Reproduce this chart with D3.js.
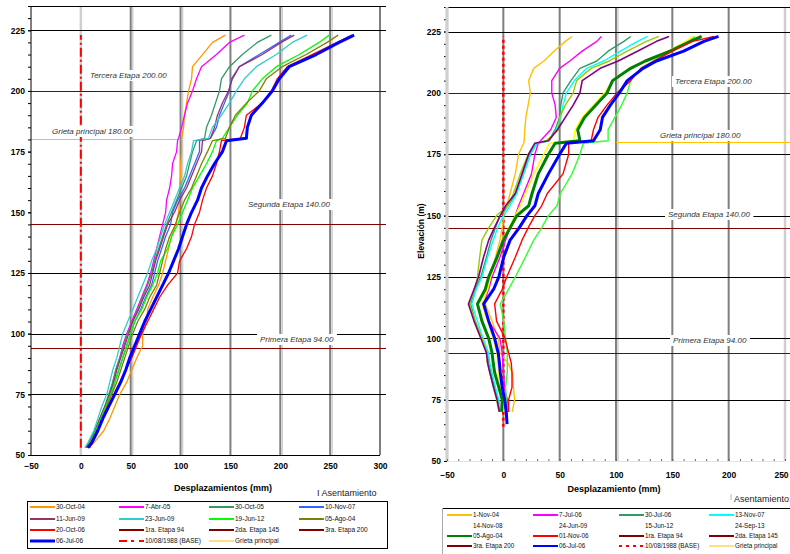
<!DOCTYPE html>
<html><head><meta charset="utf-8">
<script src="https://cdn.jsdelivr.net/npm/d3@7"></script>
<style>body{margin:0;background:#fff}svg text{font-family:"Liberation Sans",Arial,sans-serif}</style>
</head><body><svg id="c" width="790" height="554"></svg>
<script>
// ---------------- DATA (left panel) ----------------
const elevL = [53,55,60,65,70,75,80,85,90,95,100,105,110,115,120,125,130,135,140,145,150,155,160,165,170,175,179.5,180.5,185,190,195,200,205,210,215,220,223];
const L_30Oct04 = [8,13,23,29,34,39,46,51,56,62,62,66,67,72,78,82,85,88,91,95,98,99,99,100,100,101,101,101,103,104,106,108,111,112,122,132,145];
const L_7Abr05  = [5,8,15,20,25,29,32,35,39,42,46,51,56,61,66,70,73,76,79,82,85,86,89,91,92,96,97,98,101,104,107,112,116,121,136,149,164];
const L_30Oct05 = [5,8,14,19,24,28,32,35,39,43,47,52,57,62,67,71,74,78,82,86,91,96,101,106,109,112,116,124,126,131,135,139,141,149,162,177,191];
const L_10Nov07 = [6,9,15,20,25,30,34,38,42,46,50,54,60,65,71,74,77,81,85,90,92,97,104,109,114,119,119,130,136,139,144,149,151,159,179,199,211];
const L_11Jun09 = [5,8,14,19,24,29,33,36,40,44,48,52,58,63,69,72,75,79,83,87,94,99,106,111,116,121,122,130,134,137,142,148,152,159,182,201,214];
const L_23Jun09 = [4,7,13,17,21,26,29,32,36,39,42,47,52,57,62,67,71,76,80,84,89,94,99,104,107,111,113,128,132,141,149,156,164,176,196,212,227];
const L_19Jun12 = [6,9,15,20,25,30,34,38,42,46,50,54,61,66,72,77,80,87,91,97,102,107,112,119,126,132,136,142,149,157,167,172,182,196,219,239,249];
const L_05Ago04 = [6,9,16,21,26,31,36,40,44,48,52,57,64,69,76,79,82,85,89,95,99,104,111,116,121,127,132,145,149,155,166,179,186,202,226,247,258];
const L_20Oct06 = [9,11,17,22,27,33,39,45,51,56,61,67,73,79,87,97,99,106,111,114,119,122,126,132,136,139,141,160,164,166,182,191,197,207,232,257,272];
const L_06Jul06 = [7,11,17,22,28,34,40,45,49,54,59,64,70,76,82,88,93,98,102,106,111,117,121,127,134,142,146,166,167,171,182,192,199,209,236,259,274];
const baseElevL = [53,223];
const grietaL = [-50,100];

// ---------------- DATA (right panel) ----------------
const elevR = [65,70,75,80,86,90,94,100,107,114,120,125,133,140,145,150,154,159,167,175,179.5,180.5,185,190,195,200,205,210,213,217,221,223];
const R_1Nov04   = [null,8,10,9,8,4,-3,-4.5,-10,-16,-14,-11.5,-7,-3,-1,0.3,3,6,10.6,13.6,18,18.5,19,20,22,24,22.5,27,36,45,55,61];
const R_7Jul06   = [null,3,3.5,1,0.3,-0.5,-1,-3,-13,-17.6,-13,-10,-3,2,6,10.6,13.6,18,25,28,31,33,42,47,46,43,43,50,59,70,83,87];
const R_30Jul06  = [null,-3,-4.5,-7.5,-11,-13,-14,-19,-25,-29,-25,-20,-15,-11,-7,-3,4,11,18,24,30,40,46,50,51,53,60,68,83,93,107,113];
const R_13Nov07  = [null,-2.7,-4,-7,-10,-12,-13,-18,-23,-28,-24,-19,-14,-9,-5,0,6,12,18,24,30,41,47,51,53,56,63,74,89,104,119,128];
const R_14Nov08  = [null,-4,-6,-9,-12,-14,-14.5,-19,-25,-30,-25.5,-23,-21,-19,-13,-6,4,9,15,22,28,38,49,50,55,62,65,78,94,110,127,138];
const R_24Jun09  = [null,-3.5,-5.6,-8.6,-12,-14,-15,-20,-26,-31,-26,-22,-17.6,-13,-8,-2.7,2,10.6,16.6,22.5,28,40,48,55,62,68,70,86,102,119,136,147];
const R_15Jun12  = [null,0,0.3,-2.7,-4,-5,-5.6,-9,-14,-19,-14,-11.5,-5.6,-1,5,10.6,15,19.5,27,36,41,62,64,70,80,90,97,112,125,146,162,168];
const R_24Sep13  = [null,2,2.6,2,3.5,3.5,3.5,2,0.3,-2.7,4.7,10.6,19.5,27,34,40,47.6,50.6,61,68,71,93,93,99,105,110,113,122,133,150,165,170];
const R_05Ago04  = [null,-1.5,-1,-4,-7.7,-9,-10,-13,-19,-23,-16,-13,-5.6,0,6,12,22.5,25.5,31,40,46,68,66,72,82,92,97,113,126,148,166,176];
const R_01Nov06  = [null,4.7,4.7,7.7,7.7,7,4.7,1.5,-6,-7.7,-1,3,10.6,16.6,22,28,34,39,53,58,58,78,80,84,92,101,113,122,134,150,168,187];
const R_06Jul06  = [3.3,2.6,1.2,-1,-2.7,-3.5,-4.5,-7.7,-13,-17.5,-8.6,-4,0.3,6,14,21,28,31,40,50,56,80,86,88,95,103,110,124,136,160,178,191];
const baseElevR = [64,223];
const grietaR = [100,250];

// stage levels and grid lines
const etapas = [94,145,200];
const grieta = 180;
const hLinesL = [225,125,100,75];
const hLinesR = [225,175,150,125,100,75];
const yTicks = [50,75,100,125,150,175,200,225];
const xTicksL = [-50,0,50,100,150,200,250,300];
const xTicksR = [-50,0,50,100,150,200,250];

const legendL = ["30-Oct-04","7-Abr-05","30-Oct-05","10-Nov-07","11-Jun-09","23-Jun-09","19-Jun-12","05-Ago-04","20-Oct-06","1ra. Etapa 94","2da. Etapa 145","3ra. Etapa 200","06-Jul-06","10/08/1988 (BASE)","Grieta principal"];
const legendR = ["1-Nov-04","7-Jul-06","30-Jul-06","13-Nov-07","14-Nov-08","24-Jun-09","15-Jun-12","24-Sep-13","05-Ago-04","01-Nov-06","1ra. Etapa 94","2da. Etapa 145","3ra. Etapa 200","06-Jul-06","10/08/1988 (BASE)","Grieta principal"];

// ---------------- STYLE ----------------
const seriesL = [
  {v:L_30Oct04,c:"#FF9900",w:1.3},{v:L_7Abr05,c:"#FF00FF",w:1.3},{v:L_30Oct05,c:"#339966",w:1.3},
  {v:L_10Nov07,c:"#3366FF",w:1.3},{v:L_11Jun09,c:"#993366",w:1.3},{v:L_23Jun09,c:"#33CCCC",w:1.3},
  {v:L_19Jun12,c:"#00FF00",w:1.3},{v:L_05Ago04,c:"#808000",w:1.3},{v:L_20Oct06,c:"#FF0000",w:1.3},
  {v:L_06Jul06,c:"#0000FF",w:3}
];
const seriesR = [
  {v:R_1Nov04,c:"#FFC000",w:1.4},{v:R_7Jul06,c:"#FF00FF",w:1.4},{v:R_30Jul06,c:"#339966",w:1.4},
  {v:R_13Nov07,c:"#00FFFF",w:1.4},{v:R_14Nov08,c:"#99CC00",w:1.4},{v:R_24Jun09,c:"#800080",w:1.6},
  {v:R_15Jun12,c:"#FFFF00",w:1.6},{v:R_24Sep13,c:"#33FF33",w:1.4},{v:R_05Ago04,c:"#008000",w:3},
  {v:R_01Nov06,c:"#FF0000",w:1.4},{v:R_06Jul06,c:"#0000FF",w:3}
];
const DR = "#800000";

const svg = d3.select("#c");

function panel(cfg){
  const g = svg.append("g");
  const x = cfg.x, y = cfg.y;
  const [x0,x1] = x.range(); const [yb,yt] = y.range();
  cfg.grid.forEach(gd=>{
    if(gd.dark) g.append("line").attr("x1",x(gd.v)).attr("x2",x(gd.v)).attr("y1",yt).attr("y2",yb).attr("stroke","#7f7f7f").attr("stroke-width",2);
    if(gd.light) g.append("line").attr("x1",x(gd.v)+(gd.dark?2:0)).attr("x2",x(gd.v)+(gd.dark?2:0)).attr("y1",yt).attr("y2",yb).attr("stroke","#cfcfcf").attr("stroke-width",gd.dark?1.5:2.5);
  });
  cfg.hLines.forEach(v=>g.append("line").attr("x1",x0).attr("x2",cfg.hEnd).attr("y1",Math.round(y(v))+0.5).attr("y2",Math.round(y(v))+0.5).attr("stroke","#000").attr("stroke-width",1));
  etapas.forEach(v=>g.append("line").attr("x1",x0).attr("x2",cfg.hEnd).attr("y1",Math.round(y(v))+0.5).attr("y2",Math.round(y(v))+0.5).attr("stroke",DR).attr("stroke-width",1.2));
  g.append("line").attr("x1",x(cfg.grieta[0])).attr("x2",cfg.grietaEnd!==undefined?cfg.grietaEnd:x(cfg.grieta[1])).attr("y1",Math.round(y(grieta))+0.5).attr("y2",Math.round(y(grieta))+0.5).attr("stroke","#FFC000").attr("stroke-width",1);
  g.append("line").attr("x1",x0).attr("x2",cfg.hEnd).attr("y1",yt+0.5).attr("y2",yt+0.5).attr("stroke","#000");
  const ya = g.append("g").attr("transform",`translate(${x0},0)`).call(d3.axisLeft(y).tickValues(yTicks).tickSize(3).tickPadding(3).tickFormat(d3.format("d")));
  ya.select(".domain").remove();
  ya.selectAll("text").attr("font-size",8.5).attr("font-weight","bold").attr("fill","#000").attr("font-family","Liberation Sans, Arial");
  const ym = g.append("g").attr("transform",`translate(${x0},0)`).call(d3.axisLeft(y).tickValues(d3.range(50,236,5)).tickSize(3).tickFormat(""));
  ym.select(".domain").remove();
  g.append("line").attr("x1",x0).attr("x2",x0).attr("y1",yt).attr("y2",yb).attr("stroke",cfg.axisColor).attr("stroke-width",cfg.axisW);
  g.append("line").attr("x1",x0).attr("x2",x1).attr("y1",yb+0.5).attr("y2",yb+0.5).attr("stroke",cfg.bottomColor);
  const xa = g.append("g").attr("transform",`translate(0,${yb})`).call(d3.axisBottom(x).tickValues(cfg.xTicks).tickSize(0).tickPadding(cfg.xPad).tickFormat(d3.format("d")));
  xa.select(".domain").remove();
  xa.selectAll("text").attr("font-size",8.5).attr("font-weight","bold").attr("fill","#000").attr("font-family","Liberation Sans, Arial");
  if(cfg.lastShift) xa.selectAll(".tick:last-of-type text").attr("dx",cfg.lastShift);
  if(cfg.xMinor){
    const xm = g.append("g").attr("transform",`translate(0,${yb})`).call(d3.axisTop(x).tickValues(d3.range(-50,251,10)).tickSize(2).tickFormat(""));
    xm.select(".domain").remove(); xm.selectAll("line").attr("stroke","#666");
  }
  g.append("line").attr("x1",x(0)).attr("x2",x(0)).attr("y1",y(cfg.base[0])).attr("y2",y(cfg.base[1])).attr("stroke","#FF0000").attr("stroke-width",cfg.baseW).attr("stroke-dasharray",cfg.baseDash);
  const line = d3.line().defined(d=>d.d!==null).x(d=>x(d.d)).y(d=>y(d.e)).curve(d3.curveLinear);
  cfg.series.forEach(s=>{
    const pts = cfg.elev.map((e,i)=>({e:e,d:s.v[i]}));
    g.append("path").datum(pts).attr("d",line).attr("fill","none").attr("stroke",s.c).attr("stroke-width",s.w).attr("stroke-linejoin","round");
  });
  cfg.notes.forEach(n=>{
    const t = g.append("text").attr("x",n.x).attr("y",n.y).attr("font-size",8).attr("font-style","italic").attr("fill","#333").text(n.t);
    const bb = t.node().getBBox();
    g.insert("rect",()=>t.node()).attr("x",bb.x-3).attr("y",bb.y-1).attr("width",bb.width+6).attr("height",bb.height+2).attr("fill","#fff");
  });
  return g;
}

const xL = d3.scaleLinear().domain([-50,300]).range([31,380]);
const yL = d3.scaleLinear().domain([50,235]).range([455,6]);
const xR = d3.scaleLinear().domain([-50,250]).range([447,785]);
const yR = d3.scaleLinear().domain([50,235]).range([461,7]);

panel({x:xL,y:yL,elev:elevL,series:seriesL,hLines:hLinesL,hEnd:386,grieta:grietaL,
  grid:[{v:0,light:true},{v:50,dark:true,light:true},{v:100,dark:true,light:true},{v:150,dark:true},{v:200,dark:true,light:true},{v:250,dark:true,light:true},{v:300,dark:true}],
  axisColor:"#000",axisW:1,bottomColor:"#000",xTicks:xTicksL,xPad:8,xMinor:false,
  base:baseElevL,baseW:2,baseDash:"9,3,2,3",
  notes:[{x:90,y:78,t:"Tercera Etapa 200.00"},{x:52,y:134,t:"Grieta principal 180.00"},{x:248,y:207,t:"Segunda Etapa 140.00"},{x:260,y:342,t:"Primera Etapa 94.00"}]});

panel({x:xR,y:yR,elev:elevR,series:seriesR,hLines:hLinesR,hEnd:790,grieta:grietaR,grietaEnd:790,
  grid:[{v:-50,light:true},{v:0,dark:true},{v:50,dark:true},{v:100,dark:true,light:true},{v:150,dark:true},{v:200,dark:true},{v:250,light:true}],
  axisColor:"#d0d0d0",axisW:3,bottomColor:"#e4e4e4",xTicks:xTicksR,xPad:11,xMinor:true,lastShift:-4,
  base:baseElevR,baseW:2.5,baseDash:"3,3",
  notes:[{x:675,y:84,t:"Tercera Etapa 200.00"},{x:660,y:138,t:"Grieta principal 180.00"},{x:668,y:217,t:"Segunda Etapa 140.00"},{x:673,y:343,t:"Primera Etapa 94.00"}]});

svg.append("text").attr("x",223).attr("y",491).attr("text-anchor","middle").attr("font-size",9).attr("font-weight","bold").text("Desplazamientos (mm)");
svg.append("text").attr("x",614).attr("y",492).attr("text-anchor","middle").attr("font-size",9).attr("font-weight","bold").text("Desplazamiento (mm)");
svg.append("text").attr("transform","translate(424,231) rotate(-90)").attr("text-anchor","middle").attr("font-size",8.5).attr("font-weight","bold").text("Elevación (m)");
svg.append("text").attr("x",317).attr("y",496).attr("font-size",9).attr("fill","#222").text("I Asentamiento");
svg.append("line").attr("x1",731).attr("x2",731).attr("y1",494).attr("y2",500).attr("stroke","#bbb");
svg.append("text").attr("x",734).attr("y",502).attr("font-size",9).attr("fill","#222").text("Asentamiento");

function legend(items, styles, box, colX, rowY, swLen, fs){
  const g = svg.append("g");
  g.append("rect").attr("x",box[0]+0.5).attr("y",box[1]+0.5).attr("width",box[2]).attr("height",box[3]).attr("fill","#fff").attr("stroke",box[4]).attr("stroke-width",1);
  items.forEach((t,i)=>{
    const cx = colX[i%4], cy = rowY[Math.floor(i/4)];
    const s = styles[i];
    if(s.c) g.append("line").attr("x1",cx).attr("x2",cx+swLen).attr("y1",cy).attr("y2",cy).attr("stroke",s.c).attr("stroke-width",s.w).attr("stroke-dasharray",s.dash||null);
    g.append("text").attr("x",cx+swLen+1).attr("y",cy+2.3).attr("font-size",fs).attr("fill","#111").text(t);
  });
}
const stL = [{c:"#FF9900",w:2},{c:"#FF00FF",w:2},{c:"#339966",w:2},{c:"#3366FF",w:2},
  {c:"#993366",w:2},{c:"#33CCCC",w:2},{c:"#00FF00",w:2},{c:"#808000",w:2},
  {c:"#FF0000",w:2},{c:DR,w:2},{c:DR,w:2},{c:DR,w:2},
  {c:"#0000FF",w:3},{c:"#FF0000",w:2,dash:"8,4,3,5"},{c:"#FFC000",w:1}];
legend(legendL, stL, [27,501,360,47,"#000"], [30,119,209,299], [507,519,530,541], 25, 6.5);
const stR = [{c:"#FFC000",w:2},{c:"#FF00FF",w:2},{c:"#339966",w:2},{c:"#00FFFF",w:2},
  {},{},{},{},
  {c:"#008000",w:2},{c:"#FF0000",w:2},{c:DR,w:2},{c:DR,w:2},
  {c:DR,w:2},{c:"#0000FF",w:2},{c:"#FF0000",w:2,dash:"3,4"},{c:"#FFC000",w:1}];
legend(legendR, stR, [442,508,360,50,"#000"], [447,533,619,709], [515,526,536,546], 25, 6.3);
svg.append("line").attr("x1",442.5).attr("x2",442.5).attr("y1",508).attr("y2",554).attr("stroke","#aaa");
</script></body></html>
